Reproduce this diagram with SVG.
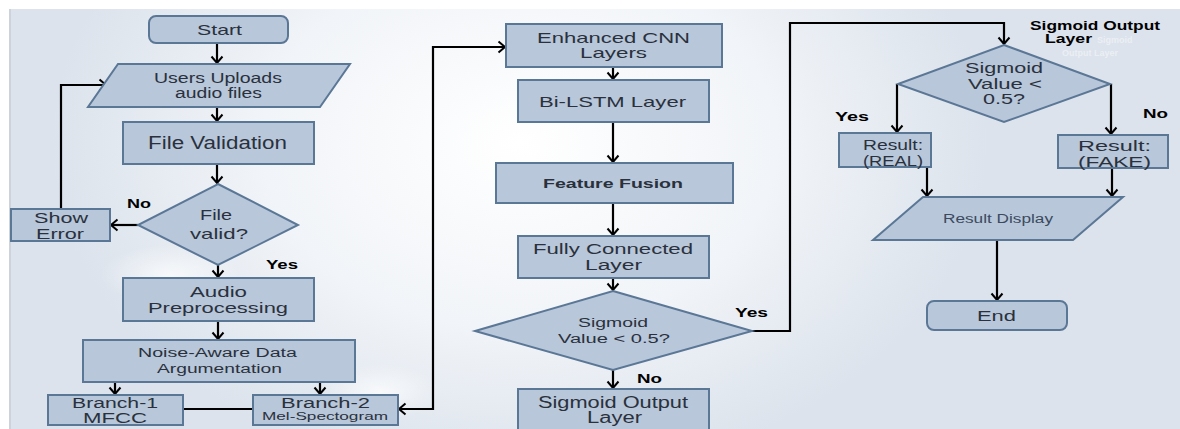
<svg xmlns="http://www.w3.org/2000/svg" width="1180" height="429" viewBox="0 0 1180 429">
  <defs>
    <radialGradient id="glow" cx="0.42" cy="0.2" r="0.5" gradientTransform="translate(0.1 0) scale(0.8 1.6)">
      <stop offset="0" stop-color="#ffffff"/>
      <stop offset="0.55" stop-color="#f1f4f8"/>
      <stop offset="1" stop-color="#dce3ec"/>
    </radialGradient>
    <radialGradient id="puff" cx="0.5" cy="0.5" r="0.5">
      <stop offset="0" stop-color="#ffffff" stop-opacity="0.7"/>
      <stop offset="1" stop-color="#ffffff" stop-opacity="0"/>
    </radialGradient>
    <marker id="arrow" markerUnits="userSpaceOnUse" markerWidth="14" markerHeight="14" refX="10" refY="7" orient="auto-start-reverse">
      <path d="M3.5,1.5 L10,7 L3.5,12.5" fill="none" stroke="#000" stroke-width="2"/>
    </marker>
  </defs>
  <style>
    .box { fill: #b8c7da; stroke: #5b7796; stroke-width: 2; }
    .t { font-family: "Liberation Sans", Arial, sans-serif; fill: #2a313c; text-anchor: middle; }
    .lbl { font-family: "Liberation Sans", Arial, sans-serif; font-weight: bold; fill: #000; font-size: 12px; }
    .ghost { font-family: "Liberation Sans", Arial, sans-serif; font-weight: bold; fill: #ffffff; opacity: 0.45; font-size: 9px; }
    .wire { fill: none; stroke: #000; stroke-width: 2.2; }
  </style>

  <!-- page background -->
  <rect x="0" y="0" width="1180" height="429" fill="#ffffff"/>
  <rect x="9" y="9" width="1171" height="420" fill="#dce3ec"/>
  <rect x="9" y="9" width="1171" height="420" fill="url(#glow)"/>
  <line x1="10" y1="9" x2="10" y2="429" stroke="#c9ced6" stroke-width="1.5"/>
  <ellipse cx="170" cy="275" rx="70" ry="30" fill="url(#puff)"/>
  <ellipse cx="380" cy="392" rx="60" ry="28" fill="url(#puff)"/>

  <!-- connectors -->
  <g id="connectors">
    <path class="wire" d="M217,43 V63" marker-end="url(#arrow)"/>
    <path class="wire" d="M217,107 V121" marker-end="url(#arrow)"/>
    <path class="wire" d="M217,164 V183" marker-end="url(#arrow)"/>
    <path class="wire" d="M138,225 H111" marker-end="url(#arrow)"/>
    <path class="wire" d="M61,209 V85 H106" marker-end="url(#arrow)"/>
    <path class="wire" d="M218,265 V277" marker-end="url(#arrow)"/>
    <path class="wire" d="M218,321 V339" marker-end="url(#arrow)"/>
    <path class="wire" d="M115,382 V394" marker-end="url(#arrow)"/>
    <path class="wire" d="M320,382 V394" marker-end="url(#arrow)"/>
    <path class="wire" d="M183,409 H253"/>
    <path class="wire" d="M399,409 H433 V47 H505" marker-start="url(#arrow)" marker-end="url(#arrow)"/>
    <path class="wire" d="M613,67 V79" marker-end="url(#arrow)"/>
    <path class="wire" d="M613,122 V162" marker-end="url(#arrow)"/>
    <path class="wire" d="M613,203 V235" marker-end="url(#arrow)"/>
    <path class="wire" d="M613,278 V290" marker-end="url(#arrow)"/>
    <path class="wire" d="M613,370 V388" marker-end="url(#arrow)"/>
    <path class="wire" d="M752,331 H790 V23 H1004 V44" marker-end="url(#arrow)"/>
    <path class="wire" d="M897,84 V132" marker-end="url(#arrow)"/>
    <path class="wire" d="M1111,84 V134" marker-end="url(#arrow)"/>
    <path class="wire" d="M927,167 V196" marker-end="url(#arrow)"/>
    <path class="wire" d="M1112,168 V196" marker-end="url(#arrow)"/>
    <path class="wire" d="M997,240 V300" marker-end="url(#arrow)"/>
  </g>

  <!-- edge labels -->
  <g id="labels">
    <text class="lbl" x="127" y="208" textLength="24" lengthAdjust="spacingAndGlyphs">No</text>
    <text class="lbl" x="266" y="269" textLength="32" lengthAdjust="spacingAndGlyphs">Yes</text>
    <text class="lbl" x="735" y="317" textLength="33" lengthAdjust="spacingAndGlyphs">Yes</text>
    <text class="lbl" x="637" y="383" textLength="25" lengthAdjust="spacingAndGlyphs">No</text>
    <text class="lbl" x="835" y="121" textLength="34" lengthAdjust="spacingAndGlyphs">Yes</text>
    <text class="lbl" x="1143" y="118" textLength="25" lengthAdjust="spacingAndGlyphs">No</text>
    <text class="lbl" x="1030" y="30" textLength="130" lengthAdjust="spacingAndGlyphs">Sigmoid Output</text>
    <text class="lbl" x="1045" y="43" textLength="47" lengthAdjust="spacingAndGlyphs">Layer</text>
    <text class="ghost" x="1097" y="43">Sigmoid</text>
    <text class="ghost" x="1062" y="56">Output Layer</text>
  </g>

  <!-- nodes -->
  <g id="start">
    <rect class="box" x="149" y="16" width="139" height="27" rx="7"/>
    <text class="t" x="219.5" y="35" font-size="15" textLength="45" lengthAdjust="spacingAndGlyphs">Start</text>
  </g>
  <g id="upload">
    <polygon class="box" points="118,64 350,64 320,107 88,107"/>
    <text class="t" x="218" y="83" font-size="14" textLength="128" lengthAdjust="spacingAndGlyphs">Users Uploads</text>
    <text class="t" x="218.5" y="98" font-size="14" textLength="87" lengthAdjust="spacingAndGlyphs">audio files</text>
  </g>
  <g id="validation">
    <rect class="box" x="123" y="122" width="191" height="42"/>
    <text class="t" x="217.5" y="149" font-size="17.5" textLength="139" lengthAdjust="spacingAndGlyphs">File Validation</text>
  </g>
  <g id="valid-check">
    <polygon class="box" points="218,184 298,225 218,265 138,225"/>
    <text class="t" x="216" y="220" font-size="15" textLength="32" lengthAdjust="spacingAndGlyphs">File</text>
    <text class="t" x="219" y="239" font-size="15" textLength="58" lengthAdjust="spacingAndGlyphs">valid?</text>
  </g>
  <g id="show-error">
    <rect class="box" x="11" y="209" width="99" height="32"/>
    <text class="t" x="61" y="223" font-size="14" textLength="54" lengthAdjust="spacingAndGlyphs">Show</text>
    <text class="t" x="60" y="239" font-size="14" textLength="48" lengthAdjust="spacingAndGlyphs">Error</text>
  </g>
  <g id="preprocessing">
    <rect class="box" x="123" y="278" width="191" height="43"/>
    <text class="t" x="218.5" y="297" font-size="15.5" textLength="57" lengthAdjust="spacingAndGlyphs">Audio</text>
    <text class="t" x="218" y="313" font-size="15.5" textLength="140" lengthAdjust="spacingAndGlyphs">Preprocessing</text>
  </g>
  <g id="augmentation">
    <rect class="box" x="83" y="340" width="272" height="42"/>
    <text class="t" x="217.5" y="357" font-size="12.5" textLength="159" lengthAdjust="spacingAndGlyphs">Noise-Aware Data</text>
    <text class="t" x="219.5" y="373" font-size="12.5" textLength="125" lengthAdjust="spacingAndGlyphs">Argumentation</text>
  </g>
  <g id="branch-1">
    <rect class="box" x="48" y="395" width="135" height="30"/>
    <text class="t" x="115" y="408" font-size="14" textLength="86" lengthAdjust="spacingAndGlyphs">Branch-1</text>
    <text class="t" x="115" y="423" font-size="14" textLength="64" lengthAdjust="spacingAndGlyphs">MFCC</text>
  </g>
  <g id="branch-2">
    <rect class="box" x="253" y="395" width="145" height="30"/>
    <text class="t" x="325.5" y="408" font-size="14" textLength="89" lengthAdjust="spacingAndGlyphs">Branch-2</text>
    <text class="t" x="325" y="420" font-size="11" textLength="126" lengthAdjust="spacingAndGlyphs">Mel-Spectogram</text>
  </g>
  <g id="cnn">
    <rect class="box" x="506" y="24" width="216" height="43"/>
    <text class="t" x="613.5" y="43" font-size="14.5" textLength="153" lengthAdjust="spacingAndGlyphs">Enhanced CNN</text>
    <text class="t" x="613.5" y="58" font-size="14.5" textLength="67" lengthAdjust="spacingAndGlyphs">Layers</text>
  </g>
  <g id="bilstm">
    <rect class="box" x="518" y="80" width="191" height="42"/>
    <text class="t" x="612.5" y="107" font-size="15" textLength="147" lengthAdjust="spacingAndGlyphs">Bi-LSTM Layer</text>
  </g>
  <g id="fusion">
    <rect class="box" x="496" y="163" width="237" height="40"/>
    <text class="t" x="613" y="188" font-size="13" font-weight="bold" textLength="140" lengthAdjust="spacingAndGlyphs">Feature Fusion</text>
  </g>
  <g id="dense">
    <rect class="box" x="518" y="236" width="191" height="42"/>
    <text class="t" x="613" y="254" font-size="15.5" textLength="160" lengthAdjust="spacingAndGlyphs">Fully Connected</text>
    <text class="t" x="613.5" y="270" font-size="15.5" textLength="57" lengthAdjust="spacingAndGlyphs">Layer</text>
  </g>
  <g id="sigmoid-check">
    <polygon class="box" points="613,291 752,331 613,370 475,331"/>
    <text class="t" x="613" y="327" font-size="12.5" textLength="70" lengthAdjust="spacingAndGlyphs">Sigmoid</text>
    <text class="t" x="614" y="343" font-size="12.5" textLength="112" lengthAdjust="spacingAndGlyphs">Value &lt; 0.5?</text>
  </g>
  <g id="sigmoid-output">
    <rect class="box" x="518" y="389" width="191" height="45"/>
    <text class="t" x="613" y="408" font-size="16" textLength="150" lengthAdjust="spacingAndGlyphs">Sigmoid Output</text>
    <text class="t" x="614.5" y="423" font-size="16" textLength="55" lengthAdjust="spacingAndGlyphs">Layer</text>
  </g>
  <g id="threshold">
    <polygon class="box" points="1004,45 1110,84 1004,122 898,84"/>
    <text class="t" x="1004" y="73" font-size="14" textLength="78" lengthAdjust="spacingAndGlyphs">Sigmoid</text>
    <text class="t" x="1005" y="89" font-size="14" textLength="74" lengthAdjust="spacingAndGlyphs">Value &lt;</text>
    <text class="t" x="1004" y="104" font-size="14" textLength="42" lengthAdjust="spacingAndGlyphs">0.5?</text>
  </g>
  <g id="result-real">
    <rect class="box" x="839" y="133" width="92" height="34"/>
    <text class="t" x="893" y="150" font-size="15" textLength="60" lengthAdjust="spacingAndGlyphs">Result:</text>
    <text class="t" x="893" y="166" font-size="15" textLength="60" lengthAdjust="spacingAndGlyphs">(REAL)</text>
  </g>
  <g id="result-fake">
    <rect class="box" x="1058" y="135" width="110" height="33"/>
    <text class="t" x="1114.5" y="151" font-size="15" textLength="73" lengthAdjust="spacingAndGlyphs">Result:</text>
    <text class="t" x="1114.5" y="167" font-size="15" textLength="73" lengthAdjust="spacingAndGlyphs">(FAKE)</text>
  </g>
  <g id="result-display">
    <polygon class="box" points="923,197 1123,197 1073,240 873,240"/>
    <text class="t" x="998" y="223" font-size="12.5" textLength="110" lengthAdjust="spacingAndGlyphs" style="fill:#3b4a5e">Result Display</text>
  </g>
  <g id="end">
    <rect class="box" x="927" y="301" width="140" height="29" rx="7"/>
    <text class="t" x="996.5" y="321" font-size="15.5" textLength="39" lengthAdjust="spacingAndGlyphs">End</text>
  </g>
</svg>
